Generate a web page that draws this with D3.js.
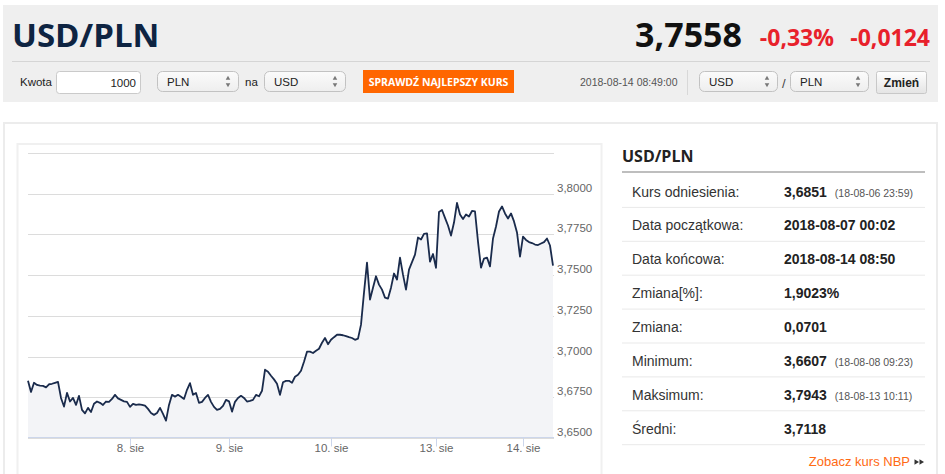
<!DOCTYPE html>
<html lang="pl">
<head>
<meta charset="UTF-8">
<title>USD/PLN</title>
<script src="https://d3js.org/d3.v7.min.js"></script>
<style>
  body { margin: 0; background: #fff; overflow: hidden; }
  svg { display: block; font-family: "Liberation Sans", Arial, sans-serif; }
  .big { font-family: "Open Sans", sans-serif; font-weight: 700; }
</style>
</head>
<body>
<script>
// kurs USD/PLN, probki co staly krok (os porzadkowa, bez weekendu)
const rates = [
  3.6851,3.6783,3.6839,3.6826,3.6822,3.6820,3.6811,3.6830,3.6833,3.6839,
  3.6845,3.6746,3.6693,3.6777,3.6724,3.6746,3.6703,3.6759,3.6673,3.6651,
  3.6685,3.6660,3.6710,3.6724,3.6716,3.6703,3.6724,3.6722,3.6740,3.6765,
  3.6743,3.6734,3.6725,3.6722,3.6691,3.6710,3.6703,3.6706,3.6703,3.6699,
  3.6679,3.6654,3.6642,3.6654,3.6685,3.6648,3.6607,3.6703,3.6765,3.6754,
  3.6765,3.6753,3.6740,3.6796,3.6837,3.6765,3.6777,3.6716,3.6722,3.6746,
  3.6765,3.6722,3.6691,3.6673,3.6679,3.6697,3.6734,3.6725,3.6662,3.6722,
  3.6746,3.6759,3.6746,3.6724,3.6728,3.6734,3.6765,3.6756,3.6790,3.6919,
  3.6907,3.6882,3.6860,3.6833,3.6765,3.6842,3.6851,3.6851,3.6839,3.6876,
  3.6888,3.6913,3.6968,3.7030,3.7030,3.7022,3.7036,3.7048,3.7085,3.7114,
  3.7076,3.7103,3.7119,3.7134,3.7134,3.7131,3.7125,3.7119,3.7114,3.7103,
  3.7110,3.7196,3.7393,3.7577,3.7350,3.7423,3.7493,3.7442,3.7411,3.7362,
  3.7356,3.7423,3.7510,3.7473,3.7608,3.7503,3.7411,3.7534,3.7580,3.7626,
  3.7731,3.7719,3.7753,3.7756,3.7583,3.7630,3.7545,3.7888,3.7900,3.7852,
  3.7805,3.7743,3.7823,3.7943,3.7873,3.7845,3.7873,3.7860,3.7894,3.7891,
  3.7706,3.7546,3.7602,3.7608,3.7554,3.7725,3.7799,3.7891,3.7922,3.7879,
  3.7848,3.7879,3.7830,3.7762,3.7614,3.7737,3.7716,3.7703,3.7697,3.7688,
  3.7685,3.7694,3.7703,3.7725,3.7682,3.7558
];
// poczatek kazdego dnia (indeks probki) i podpisy osi X
const dayIndex = [34, 67, 101, 136, 165];
const dayLabels = ["8. sie", "9. sie", "10. sie", "13. sie", "14. sie"];
const yTicks = [3.65, 3.675, 3.70, 3.725, 3.75, 3.775, 3.80, 3.825];
const yLabelTicks = [3.65, 3.675, 3.70, 3.725, 3.75, 3.775, 3.80];

// tabela statystyk
const statLabels = ["Kurs odniesienia:", "Data początkowa:", "Data końcowa:", "Zmiana[%]:",
                    "Zmiana:", "Minimum:", "Maksimum:", "Średni:"];
const statValues = ["3,6851", "2018-08-07 00:02", "2018-08-14 08:50", "1,9023%",
                    "0,0701", "3,6607", "3,7943", "3,7118"];
const statNotes = ["(18-08-06 23:59)", "", "", "", "", "(18-08-08 09:23)", "(18-08-13 10:11)", ""];

const quote = "3,7558", changePct = "-0,33%", changeAbs = "-0,0124";
const quoteTime = "2018-08-14 08:49:00";

const W = 945, H = 474;
const svg = d3.select("body").append("svg").attr("width", W).attr("height", H);

const defs = svg.append("defs");
const grad = defs.append("linearGradient").attr("id", "btn").attr("x1", 0).attr("x2", 0).attr("y1", 0).attr("y2", 1);
grad.append("stop").attr("offset", "0%").attr("stop-color", "#ffffff");
grad.append("stop").attr("offset", "100%").attr("stop-color", "#e4e4e4");
const gradSel = defs.append("linearGradient").attr("id", "sel").attr("x1", 0).attr("x2", 0).attr("y1", 0).attr("y2", 1);
gradSel.append("stop").attr("offset", "0%").attr("stop-color", "#fbfbfb");
gradSel.append("stop").attr("offset", "100%").attr("stop-color", "#eeeeee");

// ---- naglowek ----
const head = svg.append("g");
head.append("rect").attr("x", 3).attr("y", 5).attr("width", 935).attr("height", 97).attr("fill", "#efefef");
head.append("text").attr("class", "big").attr("x", 12).attr("y", 47)
    .attr("font-size", 33).attr("fill", "#0e2442").text("USD/PLN");
head.append("text").attr("class", "big").attr("x", 742).attr("y", 47).attr("text-anchor", "end")
    .attr("font-size", 34).attr("fill", "#111").text(quote);
head.append("text").attr("class", "big").attr("x", 834).attr("y", 46).attr("text-anchor", "end")
    .attr("font-size", 23).attr("fill", "#e8212b").text(changePct);
head.append("text").attr("class", "big").attr("x", 930).attr("y", 46).attr("text-anchor", "end")
    .attr("font-size", 23).attr("fill", "#e8212b").text(changeAbs);
head.append("line").attr("x1", 12).attr("x2", 930).attr("y1", 61.5).attr("y2", 61.5)
    .attr("stroke", "#d5d5d5");

function selectBox(x, w, label) {
    const g = head.append("g");
    g.append("rect").attr("x", x + 0.5).attr("y", 71.5).attr("width", w).attr("height", 20).attr("rx", 5)
        .attr("fill", "url(#sel)").attr("stroke", "#c2c2c2");
    g.append("text").attr("x", x + 10).attr("y", 85.5).attr("font-size", 11.5).attr("fill", "#222").text(label);
    const tri = d3.symbol().type(d3.symbolTriangle).size(9);
    g.append("path").attr("d", tri).attr("fill", "#777")
        .attr("transform", `translate(${x + w - 10},${78.5})`);
    g.append("path").attr("d", tri).attr("fill", "#777")
        .attr("transform", `translate(${x + w - 10},${84.5}) rotate(180)`);
}

head.append("text").attr("x", 20).attr("y", 86).attr("font-size", 11.5).attr("fill", "#222").text("Kwota");
head.append("rect").attr("x", 56.5).attr("y", 71.5).attr("width", 84).attr("height", 22).attr("rx", 3)
    .attr("fill", "#fff").attr("stroke", "#cacaca");
head.append("text").attr("x", 136).attr("y", 86.5).attr("text-anchor", "end").attr("font-size", 11.5)
    .attr("fill", "#222").text("1000");
selectBox(157, 81, "PLN");
head.append("text").attr("x", 245).attr("y", 86).attr("font-size", 11.5).attr("fill", "#222").text("na");
selectBox(264, 81, "USD");
head.append("rect").attr("x", 363).attr("y", 70).attr("width", 151).attr("height", 23).attr("fill", "#ff6600");
head.append("text").attr("class", "big").attr("x", 438.5).attr("y", 85.5).attr("text-anchor", "middle")
    .attr("font-size", 10.5).attr("fill", "#fff").attr("font-weight", 600).text("SPRAWDŹ NAJLEPSZY KURS");
head.append("text").attr("x", 580).attr("y", 86).attr("font-size", 10.5).attr("fill", "#555").text(quoteTime);
head.append("line").attr("x1", 687.5).attr("x2", 687.5).attr("y1", 70).attr("y2", 95).attr("stroke", "#d8d8d8");
selectBox(699, 78, "USD");
head.append("text").attr("x", 782).attr("y", 88).attr("font-size", 13).attr("fill", "#444").text("/");
selectBox(790, 78, "PLN");
head.append("rect").attr("x", 876.5).attr("y", 71.5).attr("width", 50).attr("height", 22).attr("rx", 2)
    .attr("fill", "url(#btn)").attr("stroke", "#c8c8c8");
head.append("text").attr("x", 901.5).attr("y", 87).attr("text-anchor", "middle").attr("font-size", 12)
    .attr("font-weight", 700).attr("fill", "#222").text("Zmień");

// ---- ramki panelu ----
svg.append("rect").attr("x", 4).attr("y", 123).attr("width", 933).attr("height", 380)
    .attr("fill", "none").attr("stroke", "#ececec").attr("stroke-width", 2);
svg.append("rect").attr("x", 17.5).attr("y", 144).attr("width", 584).attr("height", 360)
    .attr("fill", "none").attr("stroke", "#f0f0f0").attr("stroke-width", 2);

// ---- wykres ----
const x = d3.scaleLinear().domain([0, rates.length - 1]).range([28, 553]);
const y = d3.scaleLinear().domain([3.65, 3.825]).range([438, 153]);
const fmt = v => d3.format(".4f")(v).replace(".", ",");

const chart = svg.append("g");
chart.selectAll("line.grid").data(yTicks).join("line").attr("class", "grid")
    .attr("x1", 28).attr("x2", 554)
    .attr("y1", d => Math.round(y(d)) + 0.5).attr("y2", d => Math.round(y(d)) + 0.5)
    .attr("stroke", "#dcdcdc");

chart.append("path").datum(rates)
    .attr("fill", "#f3f4f7")
    .attr("d", d3.area().x((d, i) => x(i)).y0(y(3.65)).y1(d => y(d)));

chart.append("path").datum(rates)
    .attr("fill", "none").attr("stroke", "#1a2b4c").attr("stroke-width", 1.8)
    .attr("stroke-linejoin", "round")
    .attr("d", d3.line().x((d, i) => x(i)).y(d => y(d)));

// os X
const xAxis = d3.axisBottom(x).tickValues(dayIndex).tickSize(9)
    .tickFormat((d, i) => dayLabels[i]);
const gx = chart.append("g").attr("transform", `translate(0,${Math.round(y(3.65)) - 0.5})`).call(xAxis);
gx.select(".domain").attr("stroke", "#ccd6eb").attr("d", "M28,0H554");
gx.selectAll(".tick line").attr("stroke", "#ccd6eb");
gx.selectAll(".tick text").attr("fill", "#666").attr("font-size", 11.5)
    .attr("font-family", "Liberation Sans, Arial, sans-serif").attr("dy", "0.2em");

// os Y (etykiety z prawej, nad linia siatki)
chart.selectAll("text.ylab").data(yLabelTicks).join("text").attr("class", "ylab")
    .attr("x", 557).attr("y", d => y(d) - 2)
    .attr("font-size", 11.5).attr("fill", "#666").text(fmt);

// ---- tabela ----
const tab = svg.append("g");
tab.append("text").attr("class", "big").attr("x", 622).attr("y", 162).attr("font-size", 16)
    .attr("fill", "#222").text("USD/PLN");
tab.append("line").attr("x1", 622).attr("x2", 925).attr("y1", 172).attr("y2", 172)
    .attr("stroke", "#a9a9a9").attr("stroke-width", 1.5);

const rowH = 33.9, row0 = 174;
const rows = tab.selectAll("g.row").data(statLabels).join("g").attr("class", "row")
    .attr("transform", (d, i) => `translate(0,${row0 + i * rowH})`);
rows.append("text").attr("x", 632).attr("y", 22.5).attr("font-size", 14).attr("fill", "#333").text(d => d);
const val = rows.append("text").attr("x", 784).attr("y", 22.5).attr("font-size", 14)
    .attr("font-weight", 700).attr("fill", "#222");
val.append("tspan").text((d, i) => statValues[i]);
val.append("tspan").attr("dx", 8).attr("font-size", 10.5).attr("font-weight", 400).attr("fill", "#555")
    .text((d, i) => statNotes[i]);
rows.append("line").attr("x1", 622).attr("x2", 925).attr("y1", rowH - 0.5).attr("y2", rowH - 0.5)
    .attr("stroke", "#e9e9e9");

tab.append("text").attr("x", 910).attr("y", 466).attr("text-anchor", "end").attr("font-size", 13)
    .attr("fill", "#ff6a13").text("Zobacz kurs NBP");
const arrow = d3.symbol().type(d3.symbolTriangle).size(12);
[916, 921].forEach(ax => tab.append("path").attr("d", arrow).attr("fill", "#333")
    .attr("transform", `translate(${ax},462) rotate(90)`));
</script>
</body>
</html>
